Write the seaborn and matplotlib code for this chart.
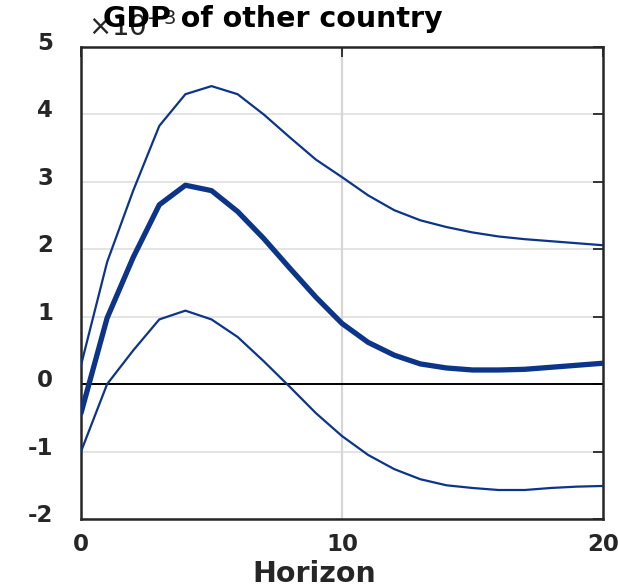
import matplotlib
matplotlib.use("Agg")
import matplotlib.pyplot as plt
import matplotlib.transforms as mtransforms
import numpy as np
import seaborn as sns

# impulse response of GDP (other country), in units of 1e-3
horizon = list(range(21))
upper = [0.28, 1.81, 2.87, 3.83, 4.30, 4.42, 4.30, 4.00, 3.66, 3.33, 3.07,
         2.80, 2.58, 2.43, 2.33, 2.25, 2.19, 2.15, 2.12, 2.09, 2.06]
median = [-0.43, 0.98, 1.88, 2.66, 2.95, 2.87, 2.56, 2.16, 1.72, 1.29, 0.90,
          0.62, 0.43, 0.30, 0.24, 0.21, 0.21, 0.22, 0.25, 0.28, 0.31]
lower = [-1.00, 0.00, 0.50, 0.96, 1.09, 0.96, 0.70, 0.34, -0.04, -0.43, -0.77,
         -1.05, -1.26, -1.41, -1.50, -1.54, -1.57, -1.57, -1.54, -1.52, -1.51]
x_ticks = [0, 10, 20]
y_ticks = [-2, -1, 0, 1, 2, 3, 4, 5]

sns.set_style("white")
plt.rcParams['font.family'] = ['DejaVu Sans']
plt.rcParams['axes.unicode_minus'] = False

line_col = "#0c3589"
edge_col = "#262626"

fig = plt.figure(figsize=(6.18, 5.87), dpi=100)
ax = fig.add_axes([81 / 618, 68 / 587, 522 / 618, 472 / 587])

# light grid: horizontal at every y tick, vertical only at 10
for yv in y_ticks:
    ax.axhline(yv, color="#dcdcdc", lw=1.1, zorder=0)
ax.axvline(10, color="#d6d6d6", lw=1.6, zorder=0)
ax.axhline(0, color="black", lw=1.4, zorder=1)

sns.lineplot(x=horizon, y=upper, ax=ax, color=line_col, lw=1.6, zorder=3)
sns.lineplot(x=horizon, y=lower, ax=ax, color=line_col, lw=1.6, zorder=3)
sns.lineplot(x=horizon, y=median, ax=ax, color=line_col, lw=3.8, zorder=4)

ax.set_xlim(0, 20)
ax.set_ylim(-2, 5)
ax.set_xticks(x_ticks)
ax.set_yticks(y_ticks)
ax.set_xticklabels([str(v) for v in x_ticks], fontsize=16.5, fontweight="bold", color=edge_col)
ax.set_yticklabels([str(v) for v in y_ticks], fontsize=16.5, fontweight="bold", color=edge_col)

ax.tick_params(axis="both", direction="in", length=7, width=1.3, color=edge_col,
               top=True, right=True)
ax.tick_params(axis="x", pad=10)
ax.tick_params(axis="y", pad=20)

# nudge y labels upward a little, like the reference
shift = mtransforms.ScaledTranslation(0, 0.06, fig.dpi_scale_trans)
for lab in ax.get_yticklabels():
    lab.set_transform(lab.get_transform() + shift)

for sp in ax.spines.values():
    sp.set_visible(True)
    sp.set_color(edge_col)
    sp.set_linewidth(1.8)

ax.set_xlabel("Horizon", fontsize=20.5, fontweight="bold", color=edge_col, va="baseline")
ax.xaxis.set_label_coords((314 - 81) / 522, (519 - 582) / 472)

# exponent marker and title (they overlap in the original as well)
fig.text(88 / 618, 1 - 36 / 587, r"$\times10^{-3}$", fontsize=20, color=edge_col,
         ha="left", va="baseline")
fig.text(273 / 618, 1 - 27 / 587, "GDP of other country", fontsize=20.5,
         fontweight="bold", color="black", ha="center", va="baseline")

fig.savefig("out.png", dpi=100)
